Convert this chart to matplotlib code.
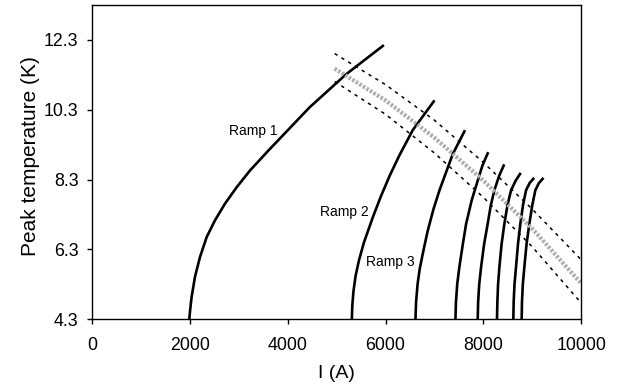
import numpy as np
import matplotlib
matplotlib.use("Agg")
import matplotlib.pyplot as plt

plt.rcParams['font.family'] = ['Liberation Sans', 'DejaVu Sans']

# ramp curves (current in A, peak temperature in K)
ramp1_i = [1990, 2012, 2038, 2106, 2209, 2345, 2515, 2720, 2959, 3231, 3606, 3837,
           4449, 5197, 5945]
ramp1_t = [4.3, 4.62, 4.94, 5.51, 6.08, 6.65, 7.13, 7.61, 8.08, 8.56, 9.13, 9.47,
           10.37, 11.32, 12.13]

ramp2_i = [5312, 5322, 5345, 5390, 5460, 5560, 5741, 5900, 6082, 6286, 6558, 6986]
ramp2_t = [4.3, 4.7, 5.1, 5.55, 6.0, 6.5, 7.22, 7.8, 8.4, 9.0, 9.72, 10.54]

ramp3_i = [6612, 6625, 6655, 6700, 6780, 6864, 6980, 7102, 7374, 7612]
ramp3_t = [4.3, 4.8, 5.3, 5.75, 6.3, 6.84, 7.45, 7.99, 9.03, 9.68]

ramp4_i = [7429, 7440, 7465, 7510, 7580, 7647, 7760, 7884, 7980, 8088]
ramp4_t = [4.3, 4.8, 5.3, 5.8, 6.45, 7.03, 7.7, 8.27, 8.7, 9.05]

ramp5_i = [7884, 7893, 7915, 7953, 8015, 8088, 8150, 8224, 8320, 8414]
ramp5_t = [4.3, 4.8, 5.3, 5.79, 6.45, 7.03, 7.55, 7.99, 8.4, 8.7]

ramp6_i = [8278, 8286, 8300, 8327, 8372, 8429, 8490, 8565, 8660, 8749]
ramp6_t = [4.3, 4.8, 5.3, 5.79, 6.45, 7.03, 7.55, 7.99, 8.27, 8.46]

ramp7_i = [8612, 8619, 8636, 8667, 8707, 8755, 8810, 8871, 8945, 9020]
ramp7_t = [4.3, 4.8, 5.3, 5.79, 6.45, 7.03, 7.57, 7.99, 8.2, 8.32]

ramp8_i = [8782, 8789, 8806, 8837, 8882, 8939, 9000, 9061, 9130, 9210]
ramp8_t = [4.3, 4.8, 5.3, 5.79, 6.45, 7.03, 7.57, 7.99, 8.19, 8.32]

# quench line with upper/lower bounds
band_i = [4960, 6000, 7000, 8000, 9000, 10000]
band_t = [11.48, 10.57, 9.50, 8.27, 6.89, 5.32]
upper_t = [11.91, 11.02, 10.0, 8.79, 7.45, 6.0]
lower_t = [11.11, 10.17, 9.06, 7.79, 6.37, 4.76]

ramps = [(ramp1_i, ramp1_t), (ramp2_i, ramp2_t), (ramp3_i, ramp3_t),
         (ramp4_i, ramp4_t), (ramp5_i, ramp5_t), (ramp6_i, ramp6_t),
         (ramp7_i, ramp7_t), (ramp8_i, ramp8_t)]

fig = plt.figure(figsize=(6.21, 3.92), dpi=100)
ax = fig.add_axes([0.148, 0.186, 0.788, 0.801])

for i, t in ramps:
    ax.plot(i, t, color="black", lw=1.9, solid_joinstyle="round")

ax.plot(band_i, band_t, color="0.68", lw=3.0, ls=(0, (0.6, 0.4)))
ax.plot(band_i, upper_t, color="black", lw=1.1, ls=(0, (2.2, 3.0)))
ax.plot(band_i, lower_t, color="black", lw=1.1, ls=(0, (2.2, 3.0)))

ax.text(3800, 9.68, "Ramp 1", ha="right", va="center", fontsize=10)
ax.text(5660, 7.37, "Ramp 2", ha="right", va="center", fontsize=10)
ax.text(6590, 5.94, "Ramp 3", ha="right", va="center", fontsize=10)

ax.set_xlim(0, 10000)
ax.set_ylim(4.3, 13.3)
ax.set_xticks([0, 2000, 4000, 6000, 8000, 10000])
ax.set_yticks([4.3, 6.3, 8.3, 10.3, 12.3])
ax.set_yticklabels(["4.3", "6.3", "8.3", "10.3", "12.3"])
ax.tick_params(direction="out", length=3.6, width=1, labelsize=12.8)
ax.tick_params(axis="x", pad=9)
ax.tick_params(axis="y", pad=6)
for s in ax.spines.values():
    s.set_linewidth(1.0)

ax.set_xlabel("I (A)", fontsize=14, labelpad=8)
ax.set_ylabel("Peak temperature (K)", fontsize=15)
ax.yaxis.set_label_coords(-0.107, 0.52)

fig.savefig("out.png", dpi=100)
